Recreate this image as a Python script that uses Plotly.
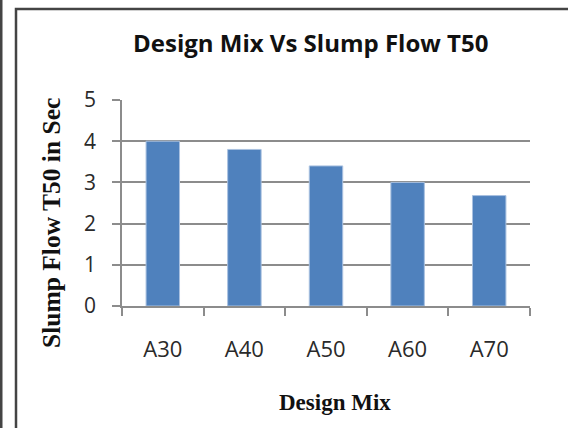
import plotly.graph_objects as go

categories = ["A30", "A40", "A50", "A60", "A70"]
t50_values = [4.0, 3.8, 3.4, 3.0, 2.68]
y_ticks = [0, 1, 2, 3, 4, 5]

W, H = 568, 428
L, R, T, B = 122, 38, 100, 122
pw, ph = W - L - R, H - T - B

def px(x):
    return (x - L) / pw

def py(y):
    return (H - B - y) / ph

fig = go.Figure(go.Bar(
    x=categories, y=t50_values,
    marker=dict(color="#4f81bd", line=dict(color="#a9c1e0", width=1)),
    width=0.41,
))

grid_col = "#8c8c8c"
fig.update_layout(
    width=W, height=H,
    margin=dict(l=L, r=R, t=T, b=B),
    paper_bgcolor="white", plot_bgcolor="white",
    showlegend=False,
    font=dict(family="Open Sans", color="#222"),
    xaxis=dict(
        type="category", range=[-0.5, 4.5],
        showline=True, linecolor=grid_col, linewidth=1.5,
        ticks="outside", ticklen=8, tickcolor=grid_col, tickwidth=1.5,
        tickson="boundaries", showgrid=False,
        tickfont=dict(size=22, family="Open Sans", color="#2a2a2a"),
        ticklabelstandoff=23,
    ),
    yaxis=dict(
        range=[0, 5], tickvals=y_ticks,
        showline=True, linecolor=grid_col, linewidth=1.5,
        ticks="outside", ticklen=8, tickcolor=grid_col, tickwidth=1.5,
        showgrid=True, gridcolor=grid_col, gridwidth=1.5,
        zeroline=False,
        tickfont=dict(size=21, family="Open Sans", color="#2a2a2a"),
        ticklabelstandoff=12,
    ),
    shapes=[
        dict(type="rect", xref="paper", yref="paper",
             x0=px(16), x1=px(600), y0=py(460), y1=py(9),
             line=dict(color="#444", width=2.5), fillcolor="rgba(0,0,0,0)", layer="above"),
        dict(type="line", xref="paper", yref="paper",
             x0=px(1), x1=px(1), y0=py(0), y1=py(428),
             line=dict(color="#444", width=3)),
    ],
    annotations=[
        dict(text="<b>Design Mix Vs Slump Flow T50</b>", xref="paper", yref="paper",
             x=px(310), y=py(43), xanchor="center", yanchor="middle", showarrow=False,
             font=dict(family="Open Sans", size=24, color="#111")),
        dict(text="<b>Design Mix</b>", xref="paper", yref="paper",
             x=px(335), y=py(402), xanchor="center", yanchor="middle", showarrow=False,
             font=dict(family="Liberation Serif", size=23, color="#111")),
        dict(text="<b>Slump Flow T50 in Sec</b>", xref="paper", yref="paper",
             x=px(51), y=py(223), xanchor="center", yanchor="middle", showarrow=False,
             textangle=-90,
             font=dict(family="Liberation Serif", size=25.5, color="#111")),
    ],
)

fig.write_html(
    "out.html",
    config={"displayModeBar": False},
    post_script="document.body.style.margin='0';document.body.style.overflow='hidden';",
)
